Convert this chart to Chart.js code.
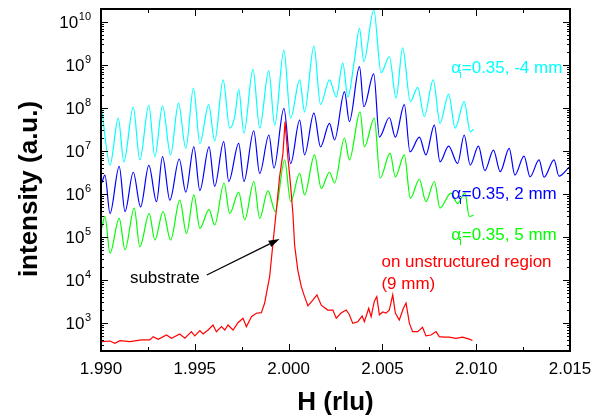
<!DOCTYPE html>
<html>
<head>
<meta charset="utf-8">
<script src="https://cdn.jsdelivr.net/npm/chart.js@4.4.1/dist/chart.umd.min.js"></script>
<style>
  html, body { margin: 0; padding: 0; background: #fff; }
</style>
</head>
<body>
<canvas id="graphic" width="601" height="419"></canvas>
<script>
// H (rlu) positions and intensities
const hCyan = [1.99004, 1.99048, 1.99092, 1.99122, 1.99172, 1.99207, 1.99255, 1.99287, 1.99328, 1.99371,
  1.99413, 1.99452, 1.99493, 1.99527, 1.99574, 1.99606, 1.99651, 1.99686, 1.99713, 1.99734,
  1.99762, 1.99810, 1.99846, 1.99894, 1.99926, 1.99975, 2.00011, 2.00059, 2.00085, 2.00135,
  2.00170, 2.00218, 2.00254, 2.00289, 2.00316, 2.00351, 2.00378, 2.00401, 2.00454, 2.00493,
  2.00537, 2.00573, 2.00608, 2.00649, 2.00688, 2.00723, 2.00771, 2.00807, 2.00853, 2.00888,
  2.00936, 2.00968, 2.00986];
const iCyan = [9.3e7, 4.7e6, 5.8e7, 5.6e6, 1.05e8, 6.2e6, 1.15e8, 7.4e6, 1.12e8, 8.1e6,
  1.3e8, 1.15e7, 2.9e8, 1.5e7, 1.2e8, 1.7e7, 4.5e8, 3.4e7, 6.3e7, 2.7e8,
  2.6e7, 7.9e8, 3.4e7, 7.4e8, 4.0e7, 2.2e9, 5.8e7, 4.5e8, 8.1e7, 2.75e9,
  1.2e8, 4.5e8, 1.8e8, 1.1e9, 1.8e8, 1.3e9, 7.1e9, 1.2e9, 1.9e10, 6.6e8,
  1.55e9, 1.7e8, 2.5e9, 1.4e8, 3.0e8, 6.3e7, 4.5e8, 4.4e7, 2.1e8, 3.4e7,
  1.4e8, 2.8e7, 3.2e7];

const hBlue = [1.99004, 1.99021, 1.99048, 1.99097, 1.99128, 1.99172, 1.99211, 1.99255, 1.99296, 1.99328,
  1.99367, 1.99417, 1.99452, 1.99495, 1.99527, 1.99576, 1.99606, 1.99654, 1.99681, 1.99734,
  1.99762, 1.99814, 1.99846, 1.99895, 1.99922, 1.99975, 2.00011, 2.00059, 2.00085, 2.00135,
  2.00170, 2.00218, 2.00245, 2.00298, 2.00324, 2.00378, 2.00401, 2.00454, 2.00484, 2.00537,
  2.00569, 2.00617, 2.00647, 2.00697, 2.00732, 2.00777, 2.00807, 2.00853, 2.00901, 2.00936,
  2.00968, 2.01012, 2.01046, 2.01092, 2.01128, 2.01176, 2.01206, 2.01255, 2.01287, 2.01335,
  2.01362, 2.01415, 2.01441, 2.01495];
const iBlue = [1.8e6, 2.75e6, 3.5e5, 4.4e6, 3.9e5, 3.2e6, 5.0e5, 4.6e6, 6.6e5, 7.4e6,
  7.2e5, 6.5e6, 1.1e6, 1.25e7, 1.2e6, 1.25e7, 1.5e6, 1.65e7, 1.95e6, 1.5e7,
  1.95e6, 2.95e7, 3.0e6, 2.35e7, 4.0e6, 9.8e7, 5.1e6, 5.2e7, 8.1e6, 7.6e7,
  1.25e7, 4.4e7, 1.8e7, 2.4e8, 4.8e7, 9.1e8, 1.07e8, 6.2e8, 2.1e7, 6.0e7,
  2.1e7, 1.2e8, 9.5e6, 2.1e7, 8.1e6, 4.0e7, 5.6e6, 1.3e7, 5.1e6, 2.35e7,
  4.7e6, 1.3e7, 3.5e6, 1.05e7, 3.3e6, 1.15e7, 2.75e6, 7.6e6, 2.5e6, 6.2e6,
  2.45e6, 6.2e6, 2.6e6, 4.2e6];

const hGreen = [1.99004, 1.99021, 1.99048, 1.99097, 1.99128, 1.99177, 1.99207, 1.99257, 1.99287, 1.99331,
  1.99371, 1.99420, 1.99456, 1.99495, 1.99527, 1.99576, 1.99606, 1.99656, 1.99686, 1.99734,
  1.99766, 1.99815, 1.99846, 1.99890, 1.99929, 1.99979, 2.00011, 2.00059, 2.00085, 2.00138,
  2.00174, 2.00218, 2.00245, 2.00298, 2.00324, 2.00381, 2.00404, 2.00457, 2.00488, 2.00541,
  2.00569, 2.00617, 2.00649, 2.00697, 2.00732, 2.00777, 2.00807, 2.00865, 2.00901, 2.00940,
  2.00963, 2.00986];
const iGreen = [1.6e5, 3.0e5, 4.2e4, 2.7e5, 5.0e4, 4.7e5, 5.9e4, 3.5e5, 8.5e4, 3.9e5,
  8.5e4, 7.2e5, 1.2e5, 9.5e5, 1.6e5, 4.3e5, 1.9e5, 1.8e6, 3.5e5, 1.1e6,
  2.5e5, 1.95e6, 2.7e5, 1.2e6, 3.9e5, 6.2e6, 6.6e5, 3.0e6, 9.5e5, 8.1e6,
  1.35e6, 3.2e6, 1.8e6, 2.0e7, 6.2e6, 8.1e7, 1.25e7, 5.8e7, 2.35e6, 8.9e6,
  2.5e6, 8.1e6, 7.9e5, 2.2e6, 6.6e5, 1.95e6, 4.7e5, 1.05e6, 6.0e5, 1.05e6,
  3.0e5, 3.2e5];

const hRed = [1.99004, 1.99048, 1.99074, 1.99101, 1.99154, 1.99216, 1.99261, 1.99278, 1.99305, 1.99349,
  1.99376, 1.99420, 1.99447, 1.99482, 1.99500, 1.99527, 1.99544, 1.99571, 1.99597, 1.99615,
  1.99642, 1.99660, 1.99677, 1.99704, 1.99730, 1.99757, 1.99775, 1.99802, 1.99828, 1.99855,
  1.99872, 1.99899, 1.99920, 1.99935, 1.99952, 1.99970, 1.99981, 1.99996, 2.00011, 2.00023,
  2.00032, 2.00049, 2.00068, 2.00085, 2.00103, 2.00129, 2.00151, 2.00174, 2.00209, 2.00236,
  2.00254, 2.00280, 2.00307, 2.00324, 2.00342, 2.00369, 2.00392, 2.00404, 2.00427, 2.00440,
  2.00457, 2.00470, 2.00484, 2.00502, 2.00520, 2.00537, 2.00555, 2.00569, 2.00590, 2.00612,
  2.00626, 2.00644, 2.00661, 2.00688, 2.00714, 2.00732, 2.00759, 2.00786, 2.00803, 2.00830,
  2.00856, 2.00892, 2.00927, 2.00963, 2.00980];
const iRed = [367, 381, 337, 387, 367, 403, 403, 480, 418, 526,
  441, 555, 441, 628, 499, 662, 555, 687, 898, 628,
  820, 687, 898, 687, 1016, 1285, 820, 1403, 1683, 1738,
  2871, 1.2e4, 1.0e5, 4.3e5, 2.5e6, 8.9e6, 4.8e7, 7.4e6, 1.5e6, 3.5e5,
  6.5e4, 1.7e4, 6900, 4100, 2500, 3400, 4500, 2600, 2000, 2000,
  1290, 1700, 2000, 1550, 980, 1070, 1450, 1070, 2200, 1400,
  3200, 4100, 1550, 1800, 1700, 2000, 4500, 1700, 1170, 2200,
  2900, 980, 630, 630, 790, 500, 525, 630, 480, 470,
  470, 440, 470, 420, 390];

const xTicks = [1.990, 1.995, 2.000, 2.005, 2.010, 2.015];
const xTickLabels = ['1.990', '1.995', '2.000', '2.005', '2.010', '2.015'];
const yTickPowers = [3, 4, 5, 6, 7, 8, 9, 10];

const FONT = '"Liberation Sans", Arial, Helvetica, sans-serif';

function toPoints(hs, vals) {
  return hs.map((h, i) => ({ x: h, y: vals[i] }));
}

// text labels, placed in data coordinates (H, intensity at baseline)
const seriesLabels = [
  { h: 2.00867, v: 6.5e8, color: '#00ffff', rest: '=0.35, -4 mm' },
  { h: 2.00867, v: 7.7e5, color: '#0000ff', rest: '=0.35, 2 mm' },
  { h: 2.00867, v: 8.5e4, color: '#00ff00', rest: '=0.35, 5 mm' }
];

function drawAlphaLabel(ctx, px, py, color, rest) {
  ctx.fillStyle = color;
  ctx.textAlign = 'left';
  ctx.textBaseline = 'alphabetic';
  ctx.font = '17px ' + FONT;
  ctx.fillText('α', px, py);
  ctx.font = '11px ' + FONT;
  ctx.fillText('i', px + 8, py + 5);
  ctx.font = '17px ' + FONT;
  ctx.fillText(rest, px + 10.5, py);
}

const framePlugin = {
  id: 'frame',
  afterDraw(chart) {
    const { ctx, chartArea: a } = chart;
    const xs = chart.scales.x, ys = chart.scales.y;
    ctx.save();

    // inward tick marks on all four sides
    ctx.strokeStyle = '#000';
    ctx.lineWidth = 1;
    ctx.beginPath();
    const xMinor = xTicks.slice(0, -1).map((t, i) => (t + xTicks[i + 1]) / 2);
    const xMark = (v, len) => {
      const px = Math.round(xs.getPixelForValue(v)) + 0.5;
      ctx.moveTo(px, a.bottom); ctx.lineTo(px, a.bottom - len);
      ctx.moveTo(px, a.top); ctx.lineTo(px, a.top + len);
    };
    xTicks.forEach(v => xMark(v, 7));
    xMinor.forEach(v => xMark(v, 4));
    const yMark = (v, len) => {
      const py = Math.round(ys.getPixelForValue(v)) + 0.5;
      ctx.moveTo(a.left, py); ctx.lineTo(a.left + len, py);
      ctx.moveTo(a.right, py); ctx.lineTo(a.right - len, py);
    };
    for (let p = 2; p <= 10; p++) {
      for (let m = 1; m <= 9; m++) {
        const v = m * Math.pow(10, p);
        if (v < ys.min || v > ys.max) continue;
        yMark(v, m === 1 ? 7 : 3);
      }
    }
    ctx.stroke();

    // frame
    ctx.lineWidth = 2;
    ctx.strokeRect(a.left, a.top, a.right - a.left, a.bottom - a.top);

    // x tick labels
    ctx.fillStyle = '#000';
    ctx.font = '17px ' + FONT;
    ctx.textAlign = 'center';
    ctx.textBaseline = 'alphabetic';
    xTicks.forEach((v, i) => {
      ctx.fillText(xTickLabels[i], xs.getPixelForValue(v), a.bottom + 23);
    });

    // y tick labels 10^n
    ctx.textAlign = 'right';
    yTickPowers.forEach(p => {
      const py = ys.getPixelForValue(Math.pow(10, p));
      const rightEdge = a.left - 10;
      ctx.font = '11px ' + FONT;
      const exp = String(p);
      const ew = ctx.measureText(exp).width;
      ctx.fillText(exp, rightEdge, py - 2);
      ctx.font = '17px ' + FONT;
      ctx.fillText('10', rightEdge - ew - 0.5, py + 6);
    });

    // axis titles
    ctx.font = 'bold 26px ' + FONT;
    ctx.textAlign = 'center';
    ctx.fillText('H (rlu)', (a.left + a.right) / 2, 410);
    ctx.save();
    ctx.translate(37, 189);
    ctx.rotate(-Math.PI / 2);
    ctx.fillText('intensity (a.u.)', 0, 0);
    ctx.restore();

    // series labels
    seriesLabels.forEach(l => {
      drawAlphaLabel(ctx, xs.getPixelForValue(l.h), ys.getPixelForValue(l.v), l.color, l.rest);
    });

    ctx.font = '17px ' + FONT;
    ctx.textAlign = 'left';
    ctx.fillStyle = '#ff0000';
    const rx = xs.getPixelForValue(2.00495);
    ctx.fillText('on unstructured region', rx, ys.getPixelForValue(2.0e4));
    ctx.fillText('(9 mm)', rx, ys.getPixelForValue(6.2e3));

    ctx.fillStyle = '#000';
    ctx.fillText('substrate', xs.getPixelForValue(1.99154), ys.getPixelForValue(8.5e3));

    // arrow to the substrate peak
    const x0 = xs.getPixelForValue(1.99564), y0 = ys.getPixelForValue(1.31e4);
    const x1 = xs.getPixelForValue(1.99952), y1 = ys.getPixelForValue(8.97e4);
    const ang = Math.atan2(y1 - y0, x1 - x0);
    const hl = 11, hw = 3.5;
    const bx = x1 - hl * Math.cos(ang), by = y1 - hl * Math.sin(ang);
    ctx.strokeStyle = '#000';
    ctx.lineWidth = 1.2;
    ctx.beginPath();
    ctx.moveTo(x0, y0); ctx.lineTo(bx, by);
    ctx.stroke();
    ctx.beginPath();
    ctx.moveTo(x1, y1);
    ctx.lineTo(bx + hw * Math.sin(ang), by - hw * Math.cos(ang));
    ctx.lineTo(bx - hw * Math.sin(ang), by + hw * Math.cos(ang));
    ctx.closePath();
    ctx.fill();

    ctx.restore();
  }
};

const ctx = document.getElementById('graphic').getContext('2d');
new Chart(ctx, {
  type: 'line',
  data: {
    datasets: [
      { data: toPoints(hRed, iRed), borderColor: '#ff0000' },
      { data: toPoints(hGreen, iGreen), borderColor: '#00ff00', cubicInterpolationMode: 'monotone' },
      { data: toPoints(hBlue, iBlue), borderColor: '#0000ff', cubicInterpolationMode: 'monotone' },
      { data: toPoints(hCyan, iCyan), borderColor: '#00ffff', cubicInterpolationMode: 'monotone' }
    ]
  },
  options: {
    responsive: false,
    animation: false,
    devicePixelRatio: 1,
    layout: { padding: { top: 9, right: 31, left: 0, bottom: 0 } },
    elements: {
      point: { radius: 0 },
      line: { borderWidth: 1.2, tension: 0, fill: false }
    },
    plugins: {
      legend: { display: false },
      tooltip: { enabled: false }
    },
    scales: {
      x: {
        type: 'linear',
        min: 1.990,
        max: 2.015,
        grid: { display: false },
        border: { display: false },
        ticks: { display: false },
        afterFit(s) { s.height = 68; }
      },
      y: {
        type: 'logarithmic',
        min: 223,
        max: 2.0e10,
        grid: { display: false },
        border: { display: false },
        ticks: { display: false },
        afterFit(s) { s.width = 101; }
      }
    }
  },
  plugins: [framePlugin]
});
</script>
</body>
</html>
